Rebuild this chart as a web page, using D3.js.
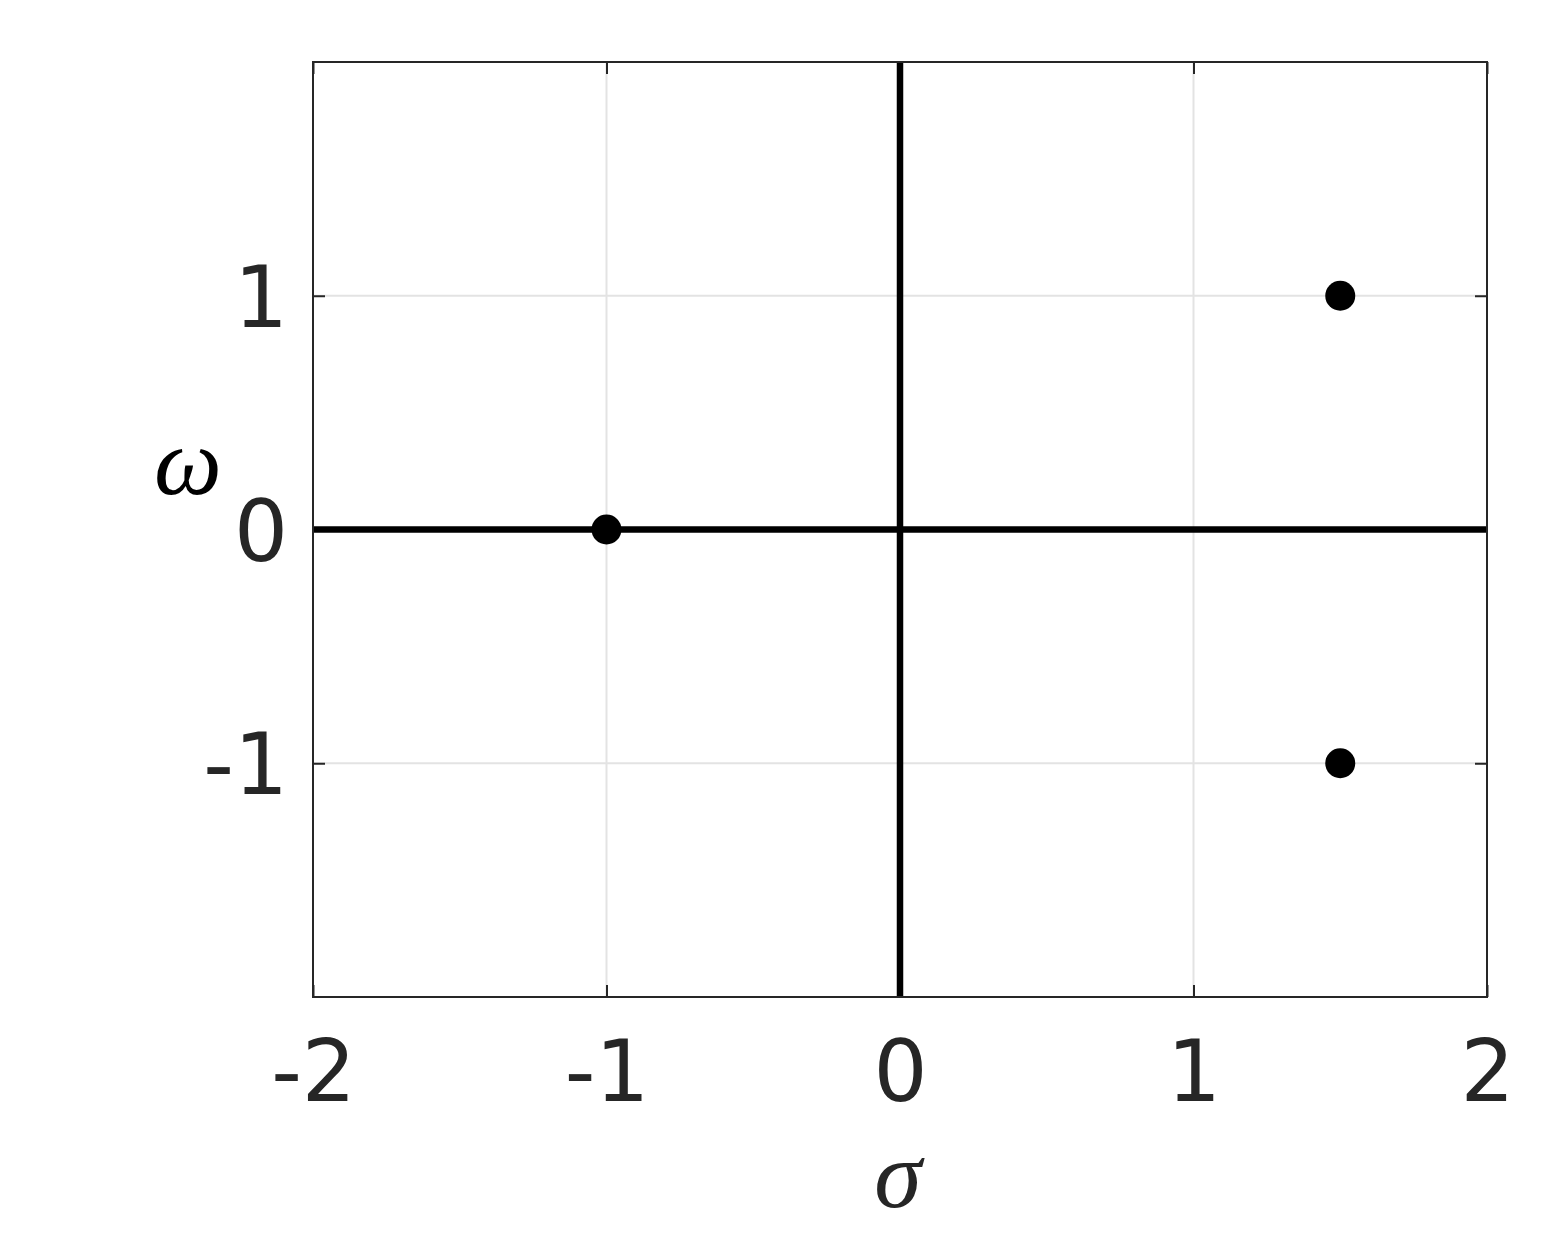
<!DOCTYPE html>
<html><head><meta charset="utf-8">
<script src="https://cdn.jsdelivr.net/npm/d3@7"></script>
<style>body{margin:0;background:#fff}svg{display:block}</style>
</head><body>
<script>
const xTicks = [-2, -1, 0, 1, 2];
const yTicks = [-1, 0, 1];
const poleSigma = [-1, 1.5, 1.5];
const poleOmega = [0, 1, -1];
const xLabel = "σ";
const yLabel = "ω";

const W = 1566, H = 1247;
const m = {l: 313, r: 1487, t: 62, b: 997};
const svg = d3.select("body").append("svg").attr("width", W).attr("height", H);
const x = d3.scaleLinear().domain([-2, 2]).range([m.l, m.r]);
const y = d3.scaleLinear().domain([-2, 2]).range([m.b, m.t]);
const fmt = d => String(d); // plain hyphen minus

// grid
const g = svg.append("g");
g.selectAll(".gx").data(xTicks.filter(d => d > -2 && d < 2)).join("line")
  .attr("x1", d => x(d)).attr("x2", d => x(d)).attr("y1", m.t).attr("y2", m.b)
  .attr("stroke", "#e3e3e3").attr("stroke-width", 2);
g.selectAll(".gy").data(yTicks).join("line")
  .attr("y1", d => y(d)).attr("y2", d => y(d)).attr("x1", m.l).attr("x2", m.r)
  .attr("stroke", "#e3e3e3").attr("stroke-width", 2);

// axes via d3
const tickFont = "DejaVu Sans, sans-serif";
const ax = svg.append("g").attr("transform", `translate(0,${m.b})`)
  .call(d3.axisBottom(x).tickValues(xTicks).tickSize(-12).tickPadding(44).tickFormat(fmt));
const ay = svg.append("g").attr("transform", `translate(${m.l},0)`)
  .call(d3.axisLeft(y).tickValues(yTicks).tickSize(-12).tickPadding(25).tickFormat(fmt));
const axTop = svg.append("g").attr("transform", `translate(0,${m.t})`)
  .call(d3.axisTop(x).tickValues(xTicks).tickSize(-12).tickFormat(""));
const ayRight = svg.append("g").attr("transform", `translate(${m.r},0)`)
  .call(d3.axisRight(y).tickValues(yTicks).tickSize(-12).tickFormat(""));
[ax, ay, axTop, ayRight].forEach(a => {
  a.select(".domain").remove();
  a.selectAll(".tick line").attr("stroke", "#262626").attr("stroke-width", 2);
  a.selectAll("text").attr("font-family", tickFont).attr("font-size", 85).attr("fill", "#262626");
});
ax.selectAll("text").attr("dy", "0.71em");
ay.selectAll("text").attr("dy", "0.36em");

// zero axes
svg.append("line").attr("x1", x(-2)).attr("x2", x(2)).attr("y1", y(0)).attr("y2", y(0))
  .attr("stroke", "#000").attr("stroke-width", 6.5);
svg.append("line").attr("x1", x(0)).attr("x2", x(0)).attr("y1", y(2)).attr("y2", y(-2))
  .attr("stroke", "#000").attr("stroke-width", 6.5);

// box
svg.append("rect").attr("x", m.l).attr("y", m.t).attr("width", m.r - m.l).attr("height", m.b - m.t)
  .attr("fill", "none").attr("stroke", "#262626").attr("stroke-width", 2);

// poles
svg.selectAll(".pole").data(poleSigma.map((s, i) => [s, poleOmega[i]])).join("circle")
  .attr("cx", d => x(d[0])).attr("cy", d => y(d[1])).attr("r", 15).attr("fill", "#000");

// labels
svg.append("text").attr("x", x(0) - 2).attr("y", 1207).attr("text-anchor", "middle")
  .attr("font-family", "Liberation Serif, serif").attr("font-style", "italic")
  .attr("font-size", 96).attr("fill", "#262626").text(xLabel);
svg.append("text").attr("x", 188).attr("y", 494).attr("text-anchor", "middle")
  .attr("font-family", "Liberation Serif, serif").attr("font-style", "italic")
  .attr("font-size", 96).attr("fill", "#000").text(yLabel);
</script>
</body></html>
